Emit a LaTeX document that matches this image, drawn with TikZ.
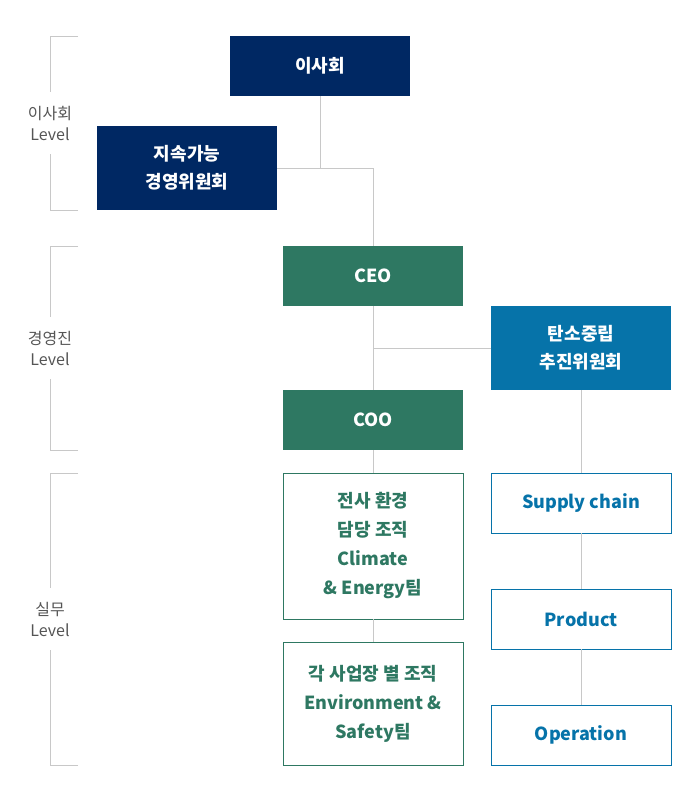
\documentclass[tikz,border=0pt]{standalone}
\usepackage{fontspec}
\setmainfont{Noto Sans CJK KR}
\usepackage{xcolor}
\usetikzlibrary{positioning}

\definecolor{navy}{HTML}{002863}
\definecolor{execgreen}{HTML}{2E7862}
\definecolor{carbonblue}{HTML}{0673A9}
\definecolor{linkgray}{HTML}{C8C8C8}
\definecolor{levelgray}{HTML}{555555}

\begin{document}
\begin{tikzpicture}[
  x = 1pt, y = -1pt,
  node distance = 23pt,
  box/.style   = {rectangle, minimum width=180pt, minimum height=60pt,
                  inner sep=0pt, outer sep=0pt, align=center,
                  font=\fontsize{18}{28}\selectfont\bfseries},
  board/.style = {box, fill=navy, text=white},
  exec/.style  = {box, fill=execgreen, text=white},
  carbon/.style= {box, fill=carbonblue, text=white},
  team/.style  = {box, draw=execgreen, line width=1pt, text=execgreen,
                  font=\fontsize{18}{29}\selectfont\bfseries},
  task/.style  = {box, draw=carbonblue, line width=1pt, text=carbonblue},
  level/.style = {align=center, inner sep=0pt, minimum height=61pt,
                  text=levelgray, font=\fontsize{16}{21}\selectfont},
  link/.style  = {draw=linkgray, line width=1pt}
]
\useasboundingbox (0,0) rectangle (700,793);

% ───────── board level ─────────
\node[board] (bod) at (320,66) {이사회};
\node[board, minimum height=84pt] (esg) at (187,168) {지속가능\\경영위원회};

% ───────── executive level ─────────
\node[exec] (ceo) at (373,276) {CEO};
\node[exec, below=84pt of ceo] (coo) {COO};
\node[carbon, minimum height=84pt] (cn) at (581,348) {탄소중립\\추진위원회};

% ───────── working level ─────────
\node[team, minimum height=146pt, below=of coo] (env)
  {전사 환경\\담당 조직\\Climate\\\& Energy팀};
\node[team, minimum height=123pt, below=of env] (site)
  {각 사업장 별 조직\\Environment \&\\Safety팀};
\node[task, below=83pt of cn] (sc)   {Supply chain};
\node[task, below=56pt of sc]  (prod) {Product};
\node[task, below=56pt of prod] (op) {Operation};

% ───────── level brackets ─────────
\node[level] (lv1) at (50,123) {이사회\\Level};
\node[level] (lv2) at (50,348) {경영진\\Level};
\node[level] (lv3) at (50,619) {실무\\Level};
\coordinate (lv1t) at (78,36);  \coordinate (lv1b) at (78,210);
\coordinate (lv2t) at (78,246); \coordinate (lv2b) at (78,450);
\coordinate (lv3t) at (78,473); \coordinate (lv3b) at (78,765);
\foreach \l in {lv1,lv2,lv3} {
  \draw[link] (\l t) -| (\l.north);
  \draw[link] (\l b) -| (\l.south);
}

% ───────── connectors ─────────
\draw[link] (bod.south) -- (bod.south |- esg.east);
\draw[link] (esg.east) -| (ceo.north);
\draw[link] (ceo) -- (coo);
\draw[link] (cn.west) -- (cn.west -| ceo.south);
\draw[link] (coo) -- (env);
\draw[link] (env) -- (site);
\draw[link] (cn) -- (sc);
\draw[link] (sc) -- (prod);
\draw[link] (prod) -- (op);

\end{tikzpicture}
\end{document}
